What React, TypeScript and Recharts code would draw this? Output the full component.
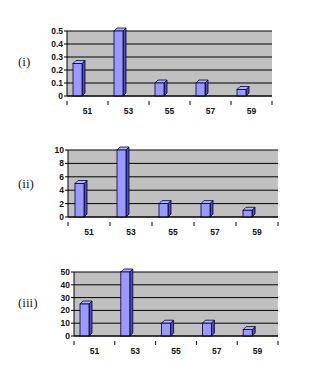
import React from 'react';
import { BarChart, Bar, XAxis, YAxis, CartesianGrid } from 'recharts';

const CATEGORIES = ['51', '53', '55', '57', '59'];
const VALUES_I = [0.25, 0.5, 0.1, 0.1, 0.05];
const VALUES_II = [5, 10, 2, 2, 1];
const VALUES_III = [25, 50, 10, 10, 5];
const TICKS_I = [0, 0.1, 0.2, 0.3, 0.4, 0.5];
const TICKS_II = [0, 2, 4, 6, 8, 10];
const TICKS_III = [0, 10, 20, 30, 40, 50];

const FONT = '"Liberation Sans", Arial, sans-serif';
const DEPTH = 3;
const SHIFT = 10; // Excel 3D columns sit left of the category centre

const Bar3D = (props: any) => {
  const { x, y, width, height } = props;
  if (height == null || width == null) return null;
  const bx = x - SHIFT;
  const w = width;
  const h = height;
  const d = DEPTH;
  return (
    <g>
      <polygon
        points={`${bx + w},${y} ${bx + w + d},${y - d} ${bx + w + d},${y + h - d} ${bx + w},${y + h}`}
        fill="#4d4db3"
        stroke="#000033"
        strokeWidth={0.8}
      />
      <polygon
        points={`${bx},${y} ${bx + d},${y - d} ${bx + w + d},${y - d} ${bx + w},${y}`}
        fill="#b3b3ff"
        stroke="#000033"
        strokeWidth={0.8}
      />
      <rect x={bx} y={y} width={w} height={h} fill="#9999ff" stroke="#000033" strokeWidth={0.8} />
    </g>
  );
};

const CatTick = (props: any) => {
  const { x, y, payload, index } = props;
  const off = payload && payload.offset ? payload.offset : 20;
  return (
    <g>
      {index === 0 && <line x1={x - off} y1={y - 3} x2={x - off} y2={y + 1} stroke="#000" />}
      <line x1={x + off} y1={y - 3} x2={x + off} y2={y + 1} stroke="#000" />
      <text x={x} y={y + 10} textAnchor="middle" fontSize={8.5} fontWeight="bold" fontFamily={FONT} fill="#111">
        {payload.value}
      </text>
    </g>
  );
};

interface MiniProps {
  values: number[];
  ticks: number[];
  top: number;
  height: number;
  plotLeft: number;
  plotRight: number;
  plotTop: number;
  plotBottom: number;
  label: string;
  labelY: number;
}

const MiniChart: React.FC<MiniProps> = ({ values, ticks, top, height, plotLeft, plotRight, plotTop, plotBottom, label, labelY }) => {
  const data = CATEGORIES.map((c, i) => ({ cat: c, v: values[i] }));
  const yW = 30;
  const xH = 18;
  return (
    <div style={{ position: 'absolute', left: 0, top, width: 324, height }}>
      <div
        style={{
          position: 'absolute',
          left: 18,
          top: labelY - top - 9,
          fontFamily: '"Liberation Serif", "DejaVu Serif", serif',
          fontSize: 13,
          color: '#222',
        }}
      >
        {label}
      </div>
      <BarChart
        width={324}
        height={height}
        data={data}
        barSize={9}
        margin={{
          top: plotTop - top,
          bottom: height - (plotBottom - top) - xH,
          left: plotLeft - yW,
          right: 324 - plotRight,
        }}
      >
        <CartesianGrid vertical={false} fill="#c0c0c0" stroke="#000" strokeWidth={1} />
        <XAxis
          dataKey="cat"
          height={xH}
          axisLine={{ stroke: '#000' }}
          tickLine={false}
          tick={<CatTick />}
          interval={0}
        />
        <YAxis
          width={yW}
          domain={[0, ticks[ticks.length - 1]]}
          ticks={ticks}
          interval={0}
          axisLine={{ stroke: '#000' }}
          tickLine={{ stroke: '#000' }}
          tickSize={3}
          tickMargin={1}
          tick={{ fontSize: 8.5, fontWeight: 'bold', fontFamily: FONT, fill: '#111' }}
        />
        <Bar dataKey="v" shape={<Bar3D />} isAnimationActive={false} />
      </BarChart>
    </div>
  );
};

export default function App() {
  return (
    <div style={{ position: 'absolute', left: 0, top: 0, width: 324, height: 366, background: '#fff' }}>
      <MiniChart values={VALUES_I} ticks={TICKS_I} top={0} height={120} plotLeft={67} plotRight={272} plotTop={31} plotBottom={96} label="(i)" labelY={63} />
      <MiniChart values={VALUES_II} ticks={TICKS_II} top={120} height={120} plotLeft={68} plotRight={278} plotTop={150} plotBottom={217} label="(ii)" labelY={185} />
      <MiniChart values={VALUES_III} ticks={TICKS_III} top={240} height={126} plotLeft={74} plotRight={278} plotTop={272} plotBottom={336} label="(iii)" labelY={304} />
    </div>
  );
}
